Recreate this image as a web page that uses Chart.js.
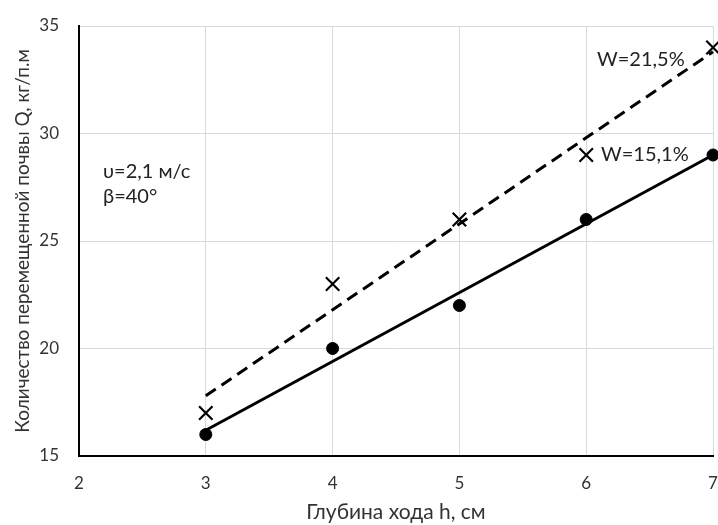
<!DOCTYPE html>
<html lang="ru">
<head>
  <meta charset="UTF-8" />
  <title>Q(h)</title>
  <script src="https://cdn.jsdelivr.net/npm/chart.js"></script>
  <style>
    body { margin: 0; background: #fff; }
    #wrap { width: 718px; height: 525px; }
  </style>
</head>
<body>
<div id="wrap"><canvas id="chart" width="718" height="525"></canvas></div>
<script>
  // глубина хода h, см
  const depth = [3, 4, 5, 6, 7];
  // W=15,1% (точки)
  const qLow = [16, 20, 22, 26, 29];
  // W=21,5% (крестики)
  const qHigh = [17, 23, 26, 29, 34];
  const xTicks = [2, 3, 4, 5, 6, 7];
  const yTicks = [15, 20, 25, 30, 35];

  const FONT = 'Lato, "Open Sans", sans-serif';

  // линейный тренд по точкам
  function trend(xs, ys) {
    const n = xs.length;
    const mx = xs.reduce((a, b) => a + b, 0) / n;
    const my = ys.reduce((a, b) => a + b, 0) / n;
    let sxy = 0, sxx = 0;
    xs.forEach((x, i) => { sxy += (x - mx) * (ys[i] - my); sxx += (x - mx) ** 2; });
    const k = sxy / sxx, b = my - k * mx;
    const x0 = xs[0], x1 = xs[n - 1];
    return [{ x: x0, y: k * x0 + b }, { x: x1, y: k * x1 + b }];
  }

  const pts = (ys) => depth.map((x, i) => ({ x, y: ys[i] }));

  const notes = {
    id: 'notes',
    afterDatasetsDraw(chart) {
      const { ctx } = chart;
      ctx.save();
      ctx.fillStyle = '#222';
      ctx.font = '20px ' + FONT;
      ctx.textBaseline = 'middle';
      ctx.textAlign = 'left';
      ctx.fillText('υ=2,1 м/с', 103, 172);
      ctx.fillText('β=40°', 103, 197);
      ctx.fillText('W=21,5%', 597, 60);
      ctx.fillText('W=15,1%', 601, 155);
      ctx.restore();
    }
  };

  new Chart(document.getElementById('chart'), {
    type: 'scatter',
    data: {
      datasets: [
        { data: trend(depth, qHigh), type: 'line', borderColor: '#000', borderWidth: 3,
          borderDash: [12, 7], pointRadius: 0, fill: false },
        { data: trend(depth, qLow), type: 'line', borderColor: '#000', borderWidth: 3,
          pointRadius: 0, fill: false },
        { data: pts(qHigh), pointStyle: 'crossRot', pointRadius: 9.5, borderColor: '#000',
          borderWidth: 2.2, backgroundColor: '#000' },
        { data: pts(qLow), pointStyle: 'circle', pointRadius: 6, borderColor: '#000',
          backgroundColor: '#000' }
      ]
    },
    options: {
      responsive: false,
      animation: false,
      clip: false,
      layout: { autoPadding: false, padding: { top: 26, right: 5, left: 0, bottom: 0 } },
      plugins: { legend: { display: false }, tooltip: { enabled: false } },
      scales: {
        x: {
          type: 'linear', min: 2, max: 7,
          afterBuildTicks: (s) => { s.ticks = xTicks.map(v => ({ value: v })); },
          afterFit: (s) => { s.height = 69; s.paddingLeft = 0; s.paddingRight = 0; },
          grid: { color: '#d9d9d9', lineWidth: 1, drawTicks: false },
          border: { color: '#000', width: 2 },
          ticks: { color: '#333', font: { family: FONT, size: 17 }, padding: 17 },
          title: { display: true, text: 'Глубина хода h, см', color: '#333',
            font: { family: FONT, size: 21 }, padding: { top: 0, bottom: 0 } }
        },
        y: {
          type: 'linear', min: 15, max: 35,
          afterBuildTicks: (s) => { s.ticks = yTicks.map(v => ({ value: v })); },
          afterFit: (s) => { s.width = 79; s.paddingTop = 0; s.paddingBottom = 0; },
          grid: { color: '#d9d9d9', lineWidth: 1, drawTicks: false },
          border: { color: '#000', width: 2 },
          ticks: { color: '#333', font: { family: FONT, size: 17 }, padding: 20 },
          title: { display: true, text: 'Количество перемещенной почвы Q, кг/п.м', color: '#333',
            font: { family: FONT, size: 19 }, padding: { top: 11, bottom: 0 } }
        }
      }
    },
    plugins: [notes]
  });
</script>
</body>
</html>
